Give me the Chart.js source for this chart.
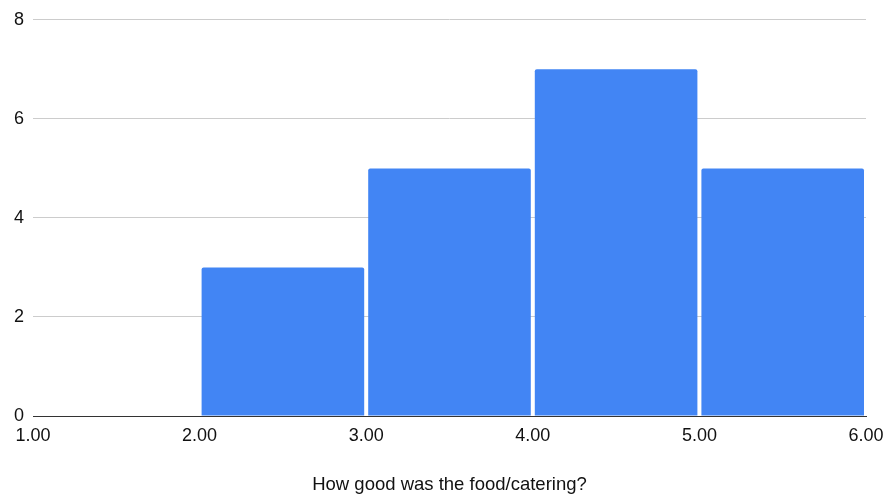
<!DOCTYPE html>
<html>
<head>
<meta charset="utf-8">
<script src="https://cdn.jsdelivr.net/npm/chart.js@4"></script>
<style>
  html, body { margin: 0; padding: 0; background: #fff; }
  #wrap { width: 890px; height: 496px; }
</style>
</head>
<body>
<div id="wrap"><canvas id="histChart" width="890" height="496"></canvas></div>
<script>
// histogram bins (left edge / right edge) and counts
const binStarts = [1, 2, 3, 4, 5];
const binEnds = [2, 3, 4, 5, 6];
const counts = [0, 3, 5, 7, 5];
const xTitle = 'How good was the food/catering?';
const yTicks = [0, 2, 4, 6, 8];

const points = binStarts.map((s, i) => ({ x: (s + binEnds[i]) / 2, y: counts[i] }));

const ctx = document.getElementById('histChart').getContext('2d');
new Chart(ctx, {
    type: 'bar',
    data: {
        datasets: [{
            data: points,
            backgroundColor: '#4285f4',
            borderWidth: 0,
            borderRadius: 2,
            borderSkipped: 'bottom',
            barPercentage: 0.976,
            categoryPercentage: 1
        }]
    },
    options: {
        responsive: false,
        animation: false,
        layout: { padding: { top: 10, right: 24, left: 0, bottom: 0 } },
        plugins: { legend: { display: false }, tooltip: { enabled: false } },
        scales: {
            x: {
                type: 'linear',
                min: binStarts[0],
                max: binEnds[binEnds.length - 1],
                offset: false,
                ticks: {
                    stepSize: 1,
                    color: '#111',
                    font: { family: 'Liberation Sans, Arial', size: 18 },
                    padding: 9,
                    maxRotation: 0,
                    callback: v => Number(v).toFixed(2)
                },
                grid: { display: false, drawTicks: false },
                border: { display: true, color: '#333', width: 1 },
                title: {
                    display: true,
                    text: xTitle,
                    color: '#111',
                    font: { family: 'Liberation Sans, Arial', size: 18.5 },
                    padding: { top: 15, bottom: 0 }
                },
                afterFit: s => { s.height = 80; s.paddingLeft = 0; s.paddingRight = 0; }
            },
            y: {
                min: yTicks[0],
                max: yTicks[yTicks.length - 1],
                ticks: {
                    stepSize: 2,
                    color: '#111',
                    font: { family: 'Liberation Sans, Arial', size: 18 },
                    padding: 9
                },
                grid: { color: '#cccccc', drawTicks: false },
                border: { display: false },
                afterFit: s => { s.width = 33; }
            }
        }
    }
});
</script>
</body>
</html>
